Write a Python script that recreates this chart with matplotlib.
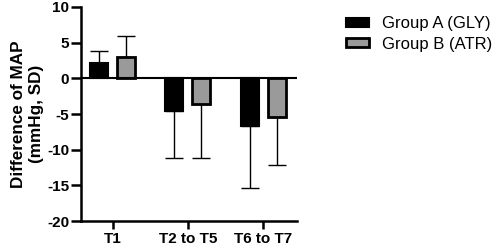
import matplotlib
matplotlib.use("Agg")
import matplotlib.pyplot as plt
import numpy as np

plt.rcParams['font.family'] = ['Liberation Sans', 'DejaVu Sans']

categories = ["T1", "T2 to T5", "T6 to T7"]
group_a = [2.1, -4.6, -6.75]
group_a_sd = [1.8, 6.6, 8.6]
group_b = [3.0, -3.6, -5.4]
group_b_sd = [3.0, 7.5, 6.7]
series_names = ["Group A (GLY)", "Group B (ATR)"]
yticks = [10, 5, 0, -5, -10, -15, -20]

fig = plt.figure(figsize=(4.98, 2.49), dpi=100)
ax = fig.add_axes([81/498, 28/249, (297-81)/498, (221-7)/249])

x = np.arange(len(categories))
w = 0.24
off = 0.18

def one_sided(vals, sds):
    lo = [s if v < 0 else 0 for v, s in zip(vals, sds)]
    hi = [s if v >= 0 else 0 for v, s in zip(vals, sds)]
    return [lo, hi]

ax.bar(x - off, group_a, w, color='black', edgecolor='black', linewidth=1.5,
       label=series_names[0], zorder=2)
ax.bar(x + off, group_b, w, color='#9a9a9a', edgecolor='black', linewidth=2,
       label=series_names[1], zorder=2)
ax.errorbar(x - off, group_a, yerr=one_sided(group_a, group_a_sd), fmt='none',
            ecolor='black', elinewidth=1, capsize=6.5, capthick=1, zorder=1)
ax.errorbar(x + off, group_b, yerr=one_sided(group_b, group_b_sd), fmt='none',
            ecolor='black', elinewidth=1, capsize=6.5, capthick=1, zorder=1)

ax.axhline(0, color='black', linewidth=1.5, zorder=3)
ax.set_xlim(-0.42, 2.45)
ax.set_ylim(-20, 10)
ax.set_yticks(yticks)
ax.set_yticklabels([str(t) for t in yticks], fontsize=11, fontweight='bold')
ax.set_xticks(x)
ax.set_xticklabels(categories, fontsize=11, fontweight='bold')
ax.spines['top'].set_visible(False)
ax.spines['right'].set_visible(False)
for s in ['left', 'bottom']:
    ax.spines[s].set_linewidth(1.8)
ax.tick_params(axis='y', width=1.8, length=7.5, pad=1)
ax.tick_params(axis='x', width=1.8, length=6, pad=2)
ax.set_ylabel("Difference of MAP\n(mmHg, SD)", fontsize=12.3, fontweight='bold',
              linespacing=1.3, labelpad=2)

leg = ax.legend(loc='upper left', bbox_to_anchor=(331/498, 1 - 1/249),
                bbox_transform=fig.transFigure, frameon=False,
                fontsize=12, handlelength=1.4, handleheight=0.45,
                labelspacing=0.35, handletextpad=0.75)

fig.savefig("out.png", dpi=100)
